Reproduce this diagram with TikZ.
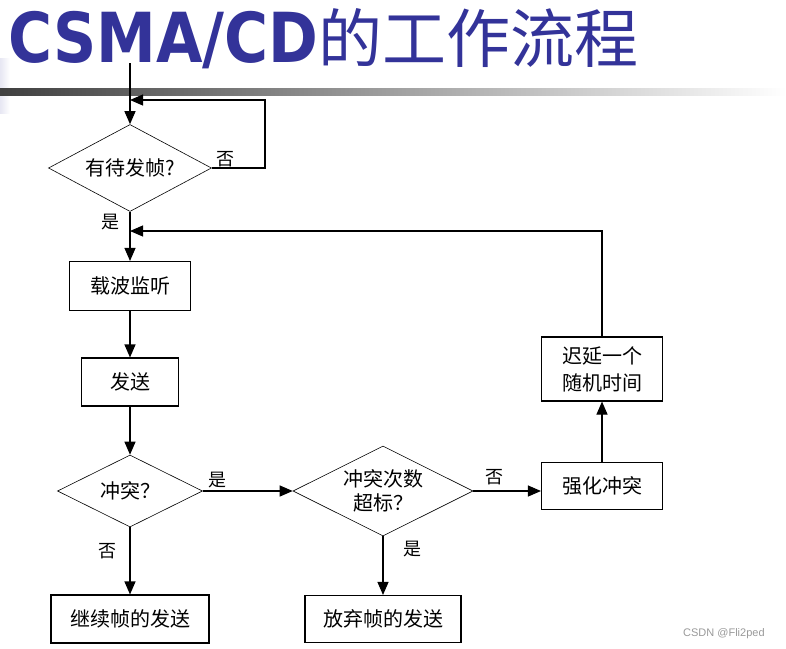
\documentclass[tikz,border=0pt]{standalone}
\usepackage{fontspec}
\setmainfont{Liberation Serif}
\newfontfamily\cjk{Noto Sans CJK SC}
\newfontfamily\headsans{Liberation Sans}
\newfontfamily\headbold{DejaVu Sans}
\usetikzlibrary{shapes.geometric,arrows.meta}
\definecolor{titleblue}{RGB}{51,51,153}
\begin{document}
\begin{tikzpicture}[x=1pt,y=-1pt,
  procbox/.style={draw,line width=1.1pt,inner sep=0,align=center,font=\cjk\fontsize{20}{27}\selectfont},
  decide/.style={draw,diamond,line width=0.6pt,inner sep=0,align=center,font=\cjk\fontsize{20}{24}\selectfont},
  lbl/.style={inner sep=0,font=\cjk\fontsize{18}{18}\selectfont},
  arr/.style={line width=1.1pt,-{Triangle[length=13pt,width=11pt]}}]
\useasboundingbox (0,0) rectangle (786,648);
\shade[left color=titleblue!12,right color=white] (0,58) rectangle (10,113);
\shade[left color=black!75,right color=white] (0,88) rectangle (786,95);
\node[anchor=base west,inner sep=0,text=titleblue] (title) at (8,62) {\scalebox{0.87}[1]{\headbold\bfseries\fontsize{69}{69}\selectfont CSMA/CD}\cjk\fontsize{64}{64}\selectfont 的工作流程};
\coordinate (start) at (130,63);
\node[decide,shape aspect=1.87,minimum width=163pt,minimum height=87pt] (wait) at (130,168) {有待发帧?};
\coordinate (loop) at (265,100);
\coordinate (loopin) at (130,100);
\node[procbox,minimum width=121pt,minimum height=49pt] (sense) at (130,286) {载波监听};
\coordinate (backin) at (130,231);
\node[procbox,minimum width=97pt,minimum height=48pt] (send) at (130,382) {发送};
\node[decide,shape aspect=2,minimum width=145pt,minimum height=72pt] (coll) at (130,491) {冲突？};
\node[procbox,minimum width=158pt,minimum height=48pt] (goon) at (130,619) {继续帧的发送};
\node[decide,shape aspect=2,minimum width=180pt,minimum height=90pt] (count) at (383,491) {冲突次数\\超标？};
\node[procbox,minimum width=156pt,minimum height=47pt] (drop) at (383,619) {放弃帧的发送};
\node[procbox,minimum width=121pt,minimum height=47pt] (jam) at (602,486) {强化冲突};
\node[procbox,minimum width=121pt,minimum height=64pt] (delay) at (602,369) {迟延一个\\随机时间};
\draw[arr] (start) -- (wait.north);
\draw[arr] (wait.east) -| (loop) -- (loopin);
\draw[arr] (wait.south) -- (sense.north);
\draw[arr] (delay.north) |- (backin);
\draw[arr] (sense) -- (send);
\draw[arr] (send) -- (coll);
\draw[arr] (coll.east) -- (count.west);
\draw[arr] (coll) -- (goon);
\draw[arr] (count.east) -- (count.east -| jam.west);
\draw[arr] (count.south) -- (drop.north);
\draw[arr] (jam) -- (delay);
\node[lbl] (no1) at (225,159) {否};
\node[lbl] (yes1) at (110,222) {是};
\node[lbl] (yes2) at (217,480) {是};
\node[lbl] (no2) at (107,551) {否};
\node[lbl] (no3) at (494,477) {否};
\node[lbl] (yes3) at (412,549) {是};
\node[anchor=base west,inner sep=0,text=black!40,font=\headsans\fontsize{11}{11}\selectfont] (mark) at (683,636) {CSDN @Fli2ped};
\end{tikzpicture}
\end{document}
